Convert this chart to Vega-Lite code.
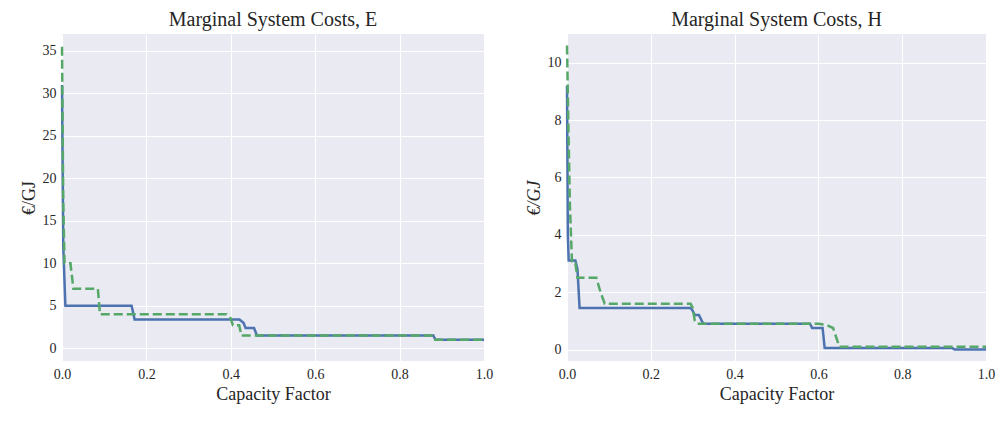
{
  "$schema": "https://vega.github.io/schema/vega-lite/v6.json",
  "background": "white",
  "padding": {"left": 20, "top": 10, "right": 10, "bottom": 5},
  "datasets": {
    "E": [
      {"cf": 0, "cost": 31, "s": "a"}, {"cf": 0.003, "cost": 12, "s": "a"}, {"cf": 0.008, "cost": 5, "s": "a"},
      {"cf": 0.165, "cost": 5, "s": "a"}, {"cf": 0.172, "cost": 3.4, "s": "a"}, {"cf": 0.42, "cost": 3.4, "s": "a"},
      {"cf": 0.43, "cost": 3.0, "s": "a"}, {"cf": 0.435, "cost": 2.4, "s": "a"}, {"cf": 0.455, "cost": 2.4, "s": "a"},
      {"cf": 0.462, "cost": 1.5, "s": "a"}, {"cf": 0.88, "cost": 1.5, "s": "a"}, {"cf": 0.885, "cost": 1.0, "s": "a"},
      {"cf": 1.0, "cost": 1.0, "s": "a"},
      {"cf": 0, "cost": 35.5, "s": "b"}, {"cf": 0.003, "cost": 17, "s": "b"}, {"cf": 0.006, "cost": 10, "s": "b"},
      {"cf": 0.02, "cost": 10, "s": "b"}, {"cf": 0.027, "cost": 7, "s": "b"}, {"cf": 0.085, "cost": 7, "s": "b"},
      {"cf": 0.09, "cost": 4, "s": "b"}, {"cf": 0.39, "cost": 4, "s": "b"}, {"cf": 0.4, "cost": 3.5, "s": "b"},
      {"cf": 0.405, "cost": 2.7, "s": "b"}, {"cf": 0.42, "cost": 2.7, "s": "b"}, {"cf": 0.425, "cost": 1.5, "s": "b"},
      {"cf": 0.88, "cost": 1.5, "s": "b"}, {"cf": 0.885, "cost": 1.0, "s": "b"}, {"cf": 1.0, "cost": 1.0, "s": "b"}
    ],
    "H": [
      {"cf": 0, "cost": 9.2, "s": "a"}, {"cf": 0.002, "cost": 4, "s": "a"}, {"cf": 0.004, "cost": 3.1, "s": "a"},
      {"cf": 0.02, "cost": 3.1, "s": "a"}, {"cf": 0.025, "cost": 2.8, "s": "a"}, {"cf": 0.03, "cost": 1.45, "s": "a"},
      {"cf": 0.295, "cost": 1.45, "s": "a"}, {"cf": 0.3, "cost": 1.35, "s": "a"}, {"cf": 0.305, "cost": 1.2, "s": "a"},
      {"cf": 0.315, "cost": 1.2, "s": "a"}, {"cf": 0.325, "cost": 0.9, "s": "a"}, {"cf": 0.58, "cost": 0.9, "s": "a"},
      {"cf": 0.585, "cost": 0.75, "s": "a"}, {"cf": 0.61, "cost": 0.75, "s": "a"}, {"cf": 0.615, "cost": 0.05, "s": "a"},
      {"cf": 0.92, "cost": 0.05, "s": "a"}, {"cf": 0.925, "cost": 0, "s": "a"}, {"cf": 1.0, "cost": 0, "s": "a"},
      {"cf": 0, "cost": 10.6, "s": "b"}, {"cf": 0.003, "cost": 8, "s": "b"}, {"cf": 0.007, "cost": 5, "s": "b"},
      {"cf": 0.012, "cost": 3, "s": "b"}, {"cf": 0.02, "cost": 3, "s": "b"}, {"cf": 0.025, "cost": 2.5, "s": "b"},
      {"cf": 0.07, "cost": 2.5, "s": "b"}, {"cf": 0.08, "cost": 2.0, "s": "b"}, {"cf": 0.09, "cost": 1.6, "s": "b"},
      {"cf": 0.295, "cost": 1.6, "s": "b"}, {"cf": 0.3, "cost": 1.45, "s": "b"}, {"cf": 0.305, "cost": 1.0, "s": "b"},
      {"cf": 0.31, "cost": 0.9, "s": "b"}, {"cf": 0.6, "cost": 0.9, "s": "b"}, {"cf": 0.62, "cost": 0.85, "s": "b"},
      {"cf": 0.635, "cost": 0.75, "s": "b"}, {"cf": 0.65, "cost": 0.1, "s": "b"}, {"cf": 1.0, "cost": 0.1, "s": "b"}
    ]
  },
  "spacing": 32,
  "hconcat": [
    {
      "title": "Marginal System Costs, E",
      "width": 422,
      "height": 327,
      "layer": [
        {"mark": {"type": "rule", "color": "#808080", "strokeWidth": 1}, "encoding": {"y": {"datum": 0}}},
        {
          "data": {"name": "E"},
          "mark": {"type": "line", "strokeWidth": 2.5},
          "encoding": {
            "x": {"field": "cf", "type": "quantitative", "title": "Capacity Factor", "scale": {"domain": [0, 1], "nice": false}, "axis": {"values": [0, 0.2, 0.4, 0.6, 0.8, 1.0], "format": ".1f"}},
            "y": {"field": "cost", "type": "quantitative", "title": "€/GJ", "scale": {"domain": [-1.5, 37], "nice": false}, "axis": {"values": [0, 5, 10, 15, 20, 25, 30, 35]}},
            "color": {"field": "s", "type": "nominal", "scale": {"domain": ["a", "b"], "range": ["#4C72B0", "#55A868"]}, "legend": null},
            "strokeDash": {"field": "s", "type": "nominal", "scale": {"domain": ["a", "b"], "range": [[1, 0], [9, 4]]}, "legend": null}
          }
        }
      ]
    },
    {
      "title": "Marginal System Costs, H",
      "width": 419,
      "height": 327,
      "layer": [
        {"mark": {"type": "rule", "color": "#808080", "strokeWidth": 1}, "encoding": {"y": {"datum": 0}}},
        {
          "data": {"name": "H"},
          "mark": {"type": "line", "strokeWidth": 2.5},
          "encoding": {
            "x": {"field": "cf", "type": "quantitative", "title": "Capacity Factor", "scale": {"domain": [0, 1], "nice": false}, "axis": {"values": [0, 0.2, 0.4, 0.6, 0.8, 1.0], "format": ".1f"}},
            "y": {"field": "cost", "type": "quantitative", "title": "€/GJ", "scale": {"domain": [-0.4, 11], "nice": false}, "axis": {"values": [0, 2, 4, 6, 8, 10], "titleFontStyle": "italic"}},
            "color": {"field": "s", "type": "nominal", "scale": {"domain": ["a", "b"], "range": ["#4C72B0", "#55A868"]}, "legend": null},
            "strokeDash": {"field": "s", "type": "nominal", "scale": {"domain": ["a", "b"], "range": [[1, 0], [9, 4]]}, "legend": null}
          }
        }
      ]
    }
  ],
  "config": {
    "font": "Liberation Serif",
    "view": {"fill": "#EAEAF2", "stroke": null},
    "title": {"fontSize": 20, "fontWeight": "normal", "color": "#262626", "offset": 4},
    "axis": {
      "grid": true, "gridColor": "white", "gridWidth": 1, "domain": false, "ticks": false,
      "labelFontSize": 14, "labelColor": "#262626", "titleFontSize": 18, "titleFontWeight": "normal",
      "titleColor": "#262626", "labelPadding": 6, "labelFlush": false
    }
  }
}
